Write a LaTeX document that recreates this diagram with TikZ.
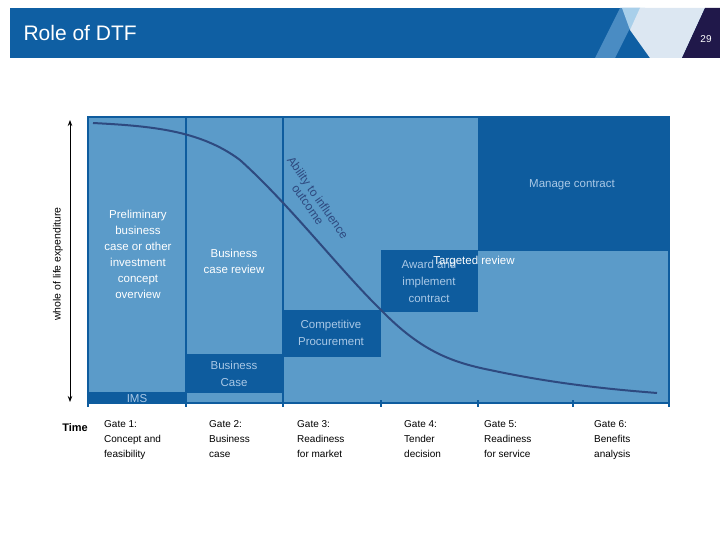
\documentclass[tikz,border=0pt]{standalone}
\usepackage{fontspec}
\setmainfont{Liberation Sans}
\usetikzlibrary{arrows.meta}
\definecolor{hdr}{HTML}{0F5FA3}
\definecolor{lt}{HTML}{5B9BC9}
\definecolor{dk}{HTML}{0E5C9E}
\definecolor{crv}{HTML}{2E4A80}
\definecolor{navy}{HTML}{20184A}
\definecolor{pale}{HTML}{DCE7F2}
\definecolor{sky}{HTML}{A8CFEA}
\definecolor{midb}{HTML}{4A8CC3}
\definecolor{dtxt}{HTML}{A9C8E6}
\tikzset{box/.style={fill=dk,draw=none},
 inlbl/.style={text=white,font=\fontsize{11.5}{16}\selectfont,align=center},
 dklbl/.style={text=dtxt,font=\fontsize{11.5}{17}\selectfont,align=center},
 gate/.style={anchor=north west,align=left,font=\fontsize{10}{15}\selectfont,inner sep=0pt}}
\begin{document}
\begin{tikzpicture}[x=1pt,y=-1pt]
\useasboundingbox (0,0) rectangle (720,540);
% header
\fill[hdr] (10,8) rectangle (720,58);
\fill[midb] (620,8) -- (640,8) -- (615,58) -- (595,58) -- cycle;
\fill[sky] (622,8) -- (645,8) -- (630,30) -- cycle;
\fill[pale] (640,8) -- (705,8) -- (682,58) -- (650,58) -- (630,30) -- cycle;
\fill[navy] (705,8) -- (720,8) -- (720,58) -- (682,58) -- cycle;
\node[anchor=west,text=white,font=\fontsize{21}{24}\selectfont] (title) at (20,33) {Role of DTF};
\node[text=white,font=\fontsize{10}{12}\selectfont] (pg) at (706,39) {29};
% plot region
\fill[lt] (88,117) rectangle (669,403);
\fill[box] (478,117) rectangle (669,251);
\fill[box] (381,250) rectangle (478,312);
\fill[box] (283,310) rectangle (381,357);
\fill[box] (186,354) rectangle (283,393);
\fill[box] (88,392) rectangle (186,403);
\draw[dk,line width=2pt] (88,117) rectangle (669,403);
\draw[dk,line width=2pt] (186,117) -- (186,403) (283,117) -- (283,403);
\foreach \x in {88,186,283,381,478,573,669} \draw[dk,line width=1.5pt] (\x,400) -- (\x,407);
% curve
\draw[crv,line width=2pt] (93,123) .. controls (150,126) and (200,130) .. (240,160)
 .. controls (290,205) and (340,270) .. (381,310)
 .. controls (420,350) and (450,362) .. (490,370)
 .. controls (560,385) and (620,390) .. (657,393);
\node[text=crv,rotate=-55,align=center,font=\fontsize{12}{12}\selectfont] (abil) at (313,201) {Ability to influence\\outcome};
% labels
\node[inlbl] (pre) at (138,254) {Preliminary\\business\\case or other\\investment\\concept\\overview};
\node[inlbl] (bcr) at (234,261) {Business\\case review};
\node[dklbl] (mc) at (572,185) {Manage contract};
\node[dklbl] (aw) at (429,281) {Award and\\implement\\contract};
\node[inlbl] (tr) at (474,262) {Targeted review};
\node[dklbl] (cp) at (331,333) {Competitive\\Procurement};
\node[dklbl] (bc) at (234,374) {Business\\Case};
\node[dklbl] (ims) at (137,399) {IMS};
% axis
\coordinate (at) at (70,120);
\coordinate (ab) at (70,402);
\draw[{Stealth[length=6pt]}-{Stealth[length=6pt]},line width=0.9pt,black] (at) -- (ab);
\node[rotate=90,font=\fontsize{10.5}{12}\selectfont] (wl) at (58,264) {whole of life expenditure};
\node[font=\bfseries\fontsize{11}{13}\selectfont] (time) at (75,428) {Time};
\node[gate] (g1) at (104,420) {Gate 1:\\Concept and\\feasibility};
\node[gate] (g2) at (209,420) {Gate 2:\\Business\\case};
\node[gate] (g3) at (297,420) {Gate 3:\\Readiness\\for market};
\node[gate] (g4) at (404,420) {Gate 4:\\Tender\\decision};
\node[gate] (g5) at (484,420) {Gate 5:\\Readiness\\for service};
\node[gate] (g6) at (594,420) {Gate 6:\\Benefits\\analysis};
\end{tikzpicture}
\end{document}
